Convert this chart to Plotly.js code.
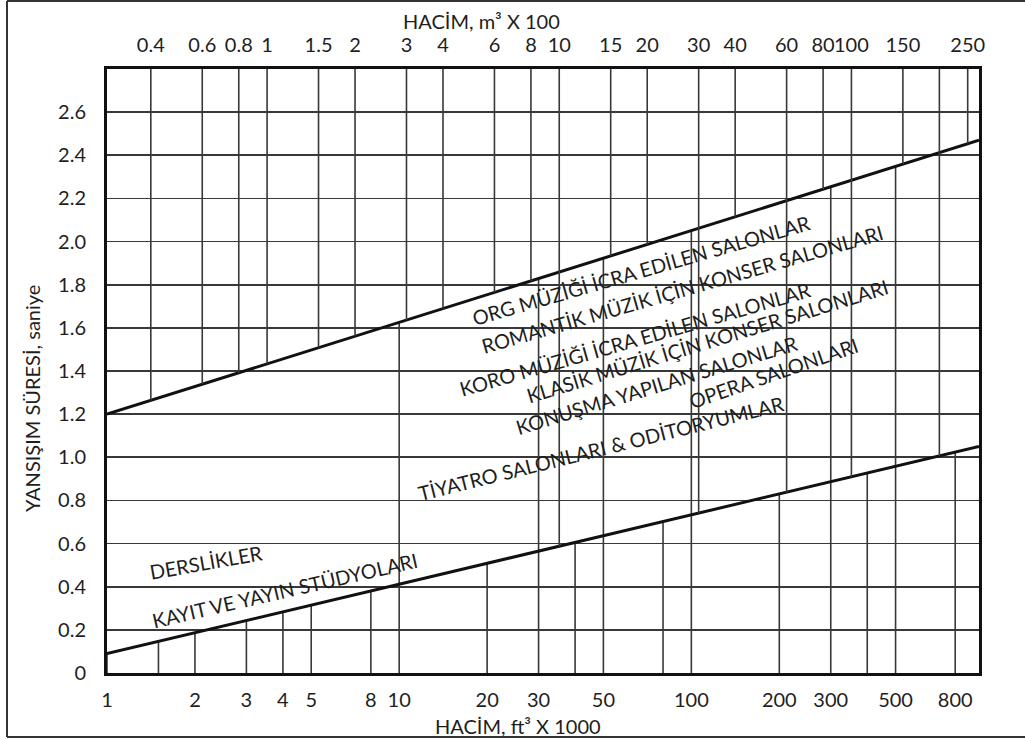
<!DOCTYPE html>
<html>
<head>
<meta charset="utf-8">
<script src="https://cdn.plot.ly/plotly-3.0.1.min.js"></script>
<style>
  html, body { margin: 0; padding: 0; background: #fff; }
  #chart { width: 1025px; height: 740px; }
</style>
</head>
<body>
<div id="chart"></div>
<script>
// ---------- data ----------
// Volume axis (bottom): ft³ × 1000
const xMax = 965;
const bottomTicks  = [1, 1.5, 2, 3, 4, 5, 8, 10, 20, 30, 40, 50, 80, 100, 200, 300, 400, 500, 800];
const bottomLabels = ["1", "", "2", "3", "4", "5", "8", "10", "20", "30", "", "50", "", "100", "200", "300", "", "500", "800"];
// which boundary line each bottom grid line runs up to: L = lower line, U = upper line
const bottomGridEnd = ["L", "L", "L", "L", "L", "L", "L", "U", "L", "U", "L", "U", "L", "U", "L", "U", "L", "U", "L"];

// Volume axis (top): m³ × 100
const ft3PerM3x100 = 3.531;   // 100 m³ = 3.531 × 1000 ft³
const topTicks  = [0.4, 0.6, 0.8, 1, 1.5, 2, 3, 4, 6, 8, 10, 15, 20, 30, 40, 60, 80, 100, 150, 200, 250];
const topLabels = ["0.4", "0.6", "0.8", "1", "1.5", "2", "3", "4", "6", "8", "10", "15", "20", "30", "40", "60", "80", "100", "150", "", "250"];
// which boundary line each top grid line runs down to
const topGridEnd = ["U", "U", "U", "U", "U", "U", "U", "U", "U", "U", "L", "U", "U", "L", "U", "L", "U", "L", "U", "L", "U"];

// Reverberation time axis (s)
const yTicks  = [0, 0.2, 0.4, 0.6, 0.8, 1.0, 1.2, 1.4, 1.6, 1.8, 2.0, 2.2, 2.4, 2.6];
const yLabels = ["0", "0.2", "0.4", "0.6", "0.8", "1.0", "1.2", "1.4", "1.6", "1.8", "2.0", "2.2", "2.4", "2.6"];
const yMax = 2.8;

// Boundary lines (volume in ft³ × 1000, time in s)
const upperX = [1, 965];
const upperY = [1.2, 2.47];
const lowerX = [1, 965];
const lowerY = [0.09, 1.05];

// Room-type labels
const roomLabels = [
  "ORG MÜZİĞİ İCRA EDİLEN SALONLAR",
  "ROMANTİK MÜZİK İÇİN KONSER SALONLARI",
  "KORO MÜZİĞİ İCRA EDİLEN SALONLAR",
  "KLASİK MÜZİK İÇİN KONSER SALONLARI",
  "KONUŞMA YAPILAN SALONLAR",
  "OPERA SALONLARI",
  "TİYATRO SALONLARI & ODİTORYUMLAR",
  "DERSLİKLER",
  "KAYIT VE YAYIN STÜDYOLARI"
];

// ---------- helpers ----------
function lineAt(xs, ys, v) {
  const a = Math.log10(xs[0]), b = Math.log10(xs[1]);
  const t = (Math.log10(v) - a) / (b - a);
  return ys[0] + t * (ys[1] - ys[0]);
}
function boundaryAt(kind, v) {
  return kind === "U" ? lineAt(upperX, upperY, v) : lineAt(lowerX, lowerY, v);
}

// bottom grid segments (from 0 up to a boundary line)
const bgx = [], bgy = [];
bottomTicks.forEach((t, i) => {
  bgx.push(t, t, null);
  bgy.push(0, boundaryAt(bottomGridEnd[i], t), null);
});
// top grid segments (from top down to a boundary line), on the m³ axis
const tgx = [], tgy = [];
topTicks.forEach((t, i) => {
  tgx.push(t, t, null);
  tgy.push(yMax, boundaryAt(topGridEnd[i], t * ft3PerM3x100), null);
});

const gridColor = "#383838";
const font = "Lato, 'Open Sans', sans-serif";
const txtColor = "#1e1e1e";

const traces = [
  { x: bgx, y: bgy, xaxis: "x", yaxis: "y", mode: "lines",
    line: { color: gridColor, width: 1.6 }, hoverinfo: "skip", connectgaps: false },
  { x: tgx, y: tgy, xaxis: "x2", yaxis: "y", mode: "lines",
    line: { color: gridColor, width: 1.6 }, hoverinfo: "skip", connectgaps: false },
  { x: upperX, y: upperY, xaxis: "x", yaxis: "y", mode: "lines",
    line: { color: "#111", width: 3 }, hoverinfo: "skip" },
  { x: lowerX, y: lowerY, xaxis: "x", yaxis: "y", mode: "lines",
    line: { color: "#111", width: 3 }, hoverinfo: "skip" }
];

// plot area pixel geometry helpers for text placement
const L = 107, R = 979, T = 69, B = 673;
const px = x => (x - L) / (R - L);
const py = y => (B - y) / (B - T);

const labelPos = [
  [641, 270, -16],
  [682, 289, -16],
  [635, 339, -16],
  [707, 341, -17],
  [656, 385, -17],
  [773, 373, -19],
  [601, 448, -14],
  [206, 562, -10],
  [285, 590, -13]
];

const annotations = roomLabels.map((s, i) => ({
  text: s, xref: "paper", yref: "paper",
  x: px(labelPos[i][0]), y: py(labelPos[i][1]),
  xanchor: "center", yanchor: "middle", showarrow: false,
  textangle: labelPos[i][2],
  font: { family: font, size: 20, color: txtColor }
}));
annotations.push(
  { text: "HACİM, m³ X 100", xref: "paper", yref: "paper", x: px(481), y: py(21),
    xanchor: "center", yanchor: "middle", showarrow: false,
    font: { family: font, size: 20, color: txtColor } },
  { text: "HACİM, ft³ X 1000", xref: "paper", yref: "paper", x: px(518), y: py(726),
    xanchor: "center", yanchor: "middle", showarrow: false,
    font: { family: font, size: 20, color: txtColor } },
  { text: "YANSIŞIM SÜRESİ, saniye", xref: "paper", yref: "paper", x: px(32), y: py(399),
    xanchor: "center", yanchor: "middle", showarrow: false, textangle: -90,
    font: { family: font, size: 20, color: txtColor } }
);

const shapes = [
  { type: "line", xref: "paper", yref: "paper", x0: px(7), x1: px(7), y0: py(1), y1: py(737),
    line: { color: "#333", width: 2 } },
  { type: "line", xref: "paper", yref: "paper", x0: px(7), x1: px(1025), y0: py(1), y1: py(1),
    line: { color: "#333", width: 2 } },
  { type: "line", xref: "paper", yref: "paper", x0: px(7), x1: px(1025), y0: py(737), y1: py(737),
    line: { color: "#333", width: 2 } }
];

const layout = {
  width: 1025, height: 740,
  margin: { l: L, r: 1025 - R, t: T, b: 740 - B, pad: 0 },
  paper_bgcolor: "#fff", plot_bgcolor: "#fff",
  showlegend: false, hovermode: false,
  font: { family: font, size: 20, color: txtColor },
  xaxis: {
    type: "log", range: [0, Math.log10(xMax)],
    tickmode: "array", tickvals: bottomTicks, ticktext: bottomLabels, tickangle: 0,
    ticks: "outside", ticklen: 7, tickcolor: "rgba(0,0,0,0)",
    showgrid: false, zeroline: false,
    showline: true, linecolor: "#111", linewidth: 3, mirror: true,
    tickfont: { family: font, size: 20, color: txtColor }
  },
  xaxis2: {
    type: "log", overlaying: "x", side: "top",
    range: [0 - Math.log10(ft3PerM3x100), Math.log10(xMax) - Math.log10(ft3PerM3x100)],
    tickmode: "array", tickvals: topTicks, ticktext: topLabels, tickangle: 0,
    ticks: "outside", ticklen: 8, tickcolor: "rgba(0,0,0,0)",
    showgrid: false, zeroline: false, showline: false,
    tickfont: { family: font, size: 20, color: txtColor }
  },
  yaxis: {
    range: [0, yMax],
    tickmode: "array", tickvals: yTicks, ticktext: yLabels,
    ticks: "outside", ticklen: 14, tickcolor: "rgba(0,0,0,0)",
    showgrid: true, gridcolor: gridColor, gridwidth: 1.6, zeroline: false,
    showline: true, linecolor: "#111", linewidth: 3, mirror: true,
    tickfont: { family: font, size: 20, color: txtColor }
  },
  annotations: annotations,
  shapes: shapes
};

Plotly.newPlot("chart", traces, layout, { staticPlot: true, displayModeBar: false });
</script>
</body>
</html>
